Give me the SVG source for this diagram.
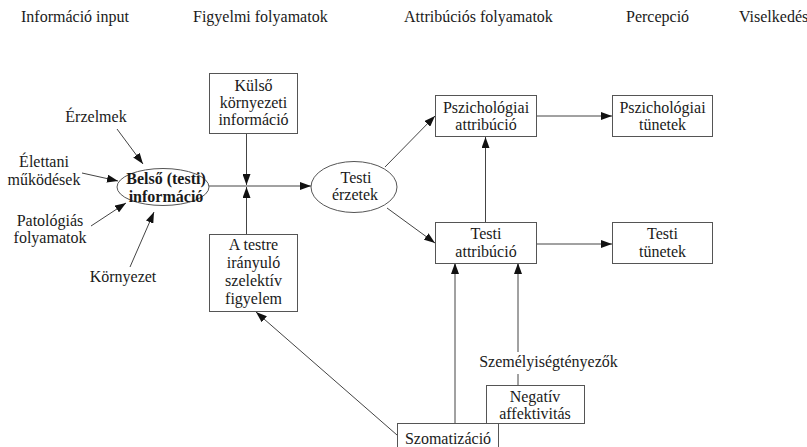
<svg xmlns="http://www.w3.org/2000/svg" width="807" height="447" viewBox="0 0 807 447">
  <style>
    text { font-family: 'Liberation Serif', 'DejaVu Serif', 'Noto Serif', serif; font-size: 16px; fill: #1a1a1a; }
    .c { text-anchor: middle; }
    .b { font-weight: bold; }
    .box { fill: #ffffff; stroke: #555555; stroke-width: 1; }
    .ell { fill: #ffffff; stroke: #555555; stroke-width: 1; }
    .ln { fill: none; stroke: #444444; stroke-width: 1; }
    .arr { marker-end: url(#ah); }
  </style>
  <defs>
    <marker id="ah" markerUnits="userSpaceOnUse" markerWidth="11" markerHeight="8" refX="11" refY="4" orient="auto">
      <path d="M0,0 L11,4 L0,8 Z" fill="#111111"/>
    </marker>
  </defs>

  <rect width="807" height="447" fill="#ffffff"/>

  <!-- column headings -->
  <g id="headings">
    <text x="21" y="22">Információ input</text>
    <text x="193" y="22">Figyelmi folyamatok</text>
    <text x="404" y="22">Attribúciós folyamatok</text>
    <text x="626" y="22">Percepció</text>
    <text x="739" y="22">Viselkedés</text>
  </g>

  <!-- connectors -->
  <g id="connectors">
    <line class="ln arr" x1="117" y1="129" x2="143" y2="164"/>
    <line class="ln arr" x1="82" y1="173" x2="118" y2="181"/>
    <line class="ln arr" x1="91" y1="226" x2="126" y2="203"/>
    <line class="ln arr" x1="130" y1="267" x2="154" y2="212"/>
    <line class="ln arr" x1="209" y1="186" x2="311" y2="186"/>
    <line class="ln arr" x1="246.5" y1="133" x2="246.5" y2="185"/>
    <line class="ln arr" x1="246.5" y1="234" x2="246.5" y2="187"/>
    <line class="ln arr" x1="385" y1="167" x2="435" y2="116"/>
    <line class="ln arr" x1="387" y1="208" x2="435" y2="243"/>
    <line class="ln arr" x1="536" y1="116" x2="612" y2="116"/>
    <line class="ln arr" x1="536" y1="244" x2="612" y2="244"/>
    <line class="ln arr" x1="485.5" y1="222" x2="485.5" y2="137"/>
    <line class="ln arr" x1="455" y1="423" x2="455" y2="263"/>
    <line class="ln arr" x1="518" y1="352" x2="518" y2="263"/>
    <line class="ln" x1="518" y1="374" x2="518" y2="385"/>
    <line class="ln arr" x1="397" y1="435" x2="256" y2="312"/>
  </g>

  <!-- input labels -->
  <g id="erzelmek"><text class="c" x="96" y="122">Érzelmek</text></g>
  <g id="elettani">
    <text class="c" x="44" y="167">Élettani</text>
    <text class="c" x="44" y="185">működések</text>
  </g>
  <g id="patologias">
    <text class="c" x="50" y="226">Patológiás</text>
    <text class="c" x="50" y="243">folyamatok</text>
  </g>
  <g id="kornyezet"><text class="c" x="123" y="282">Környezet</text></g>

  <g id="belso">
    <ellipse class="ell" cx="163" cy="187" rx="46" ry="18.5"/>
    <text class="c b" x="166" y="184">Belső (testi)</text>
    <text class="c b" x="166" y="202">információ</text>
  </g>

  <g id="kulso">
    <rect class="box" x="209.5" y="73.5" width="88" height="60"/>
    <text class="c" x="253.5" y="91">Külső</text>
    <text class="c" x="253.5" y="108">környezeti</text>
    <text class="c" x="253.5" y="125">információ</text>
  </g>

  <g id="figyelem">
    <rect class="box" x="209.5" y="234.5" width="88" height="77"/>
    <text class="c" x="253.5" y="250">A testre</text>
    <text class="c" x="253.5" y="268">irányuló</text>
    <text class="c" x="253.5" y="286">szelektív</text>
    <text class="c" x="253.5" y="304">figyelem</text>
  </g>

  <g id="testi-erzetek">
    <ellipse class="ell" cx="354" cy="187" rx="43" ry="25.5"/>
    <text class="c" x="356" y="183">Testi</text>
    <text class="c" x="355" y="200">érzetek</text>
  </g>

  <g id="pszich-attr">
    <rect class="box" x="435.5" y="95.5" width="101" height="41"/>
    <text class="c" x="486" y="113">Pszichológiai</text>
    <text class="c" x="486" y="130">attribúció</text>
  </g>

  <g id="pszich-tunetek">
    <rect class="box" x="612.5" y="95.5" width="100" height="41"/>
    <text class="c" x="662.5" y="113">Pszichológiai</text>
    <text class="c" x="662.5" y="130">tünetek</text>
  </g>

  <g id="testi-attr">
    <rect class="box" x="435.5" y="222.5" width="101" height="41"/>
    <text class="c" x="486" y="239">Testi</text>
    <text class="c" x="486" y="257">attribúció</text>
  </g>

  <g id="testi-tunetek">
    <rect class="box" x="612.5" y="222.5" width="100" height="41"/>
    <text class="c" x="662.5" y="239">Testi</text>
    <text class="c" x="662.5" y="257">tünetek</text>
  </g>

  <g id="szemelyiseg"><text class="c" x="548.5" y="367">Személyiségtényezők</text></g>

  <g id="negativ">
    <rect class="box" x="486.5" y="385.5" width="98" height="38"/>
    <text class="c" x="535" y="402">Negatív</text>
    <text class="c" x="535" y="419">affektivitás</text>
  </g>

  <g id="szomatizacio">
    <rect class="box" x="397.5" y="423.5" width="101" height="30"/>
    <text class="c" x="448" y="444">Szomatizáció</text>
  </g>
</svg>
